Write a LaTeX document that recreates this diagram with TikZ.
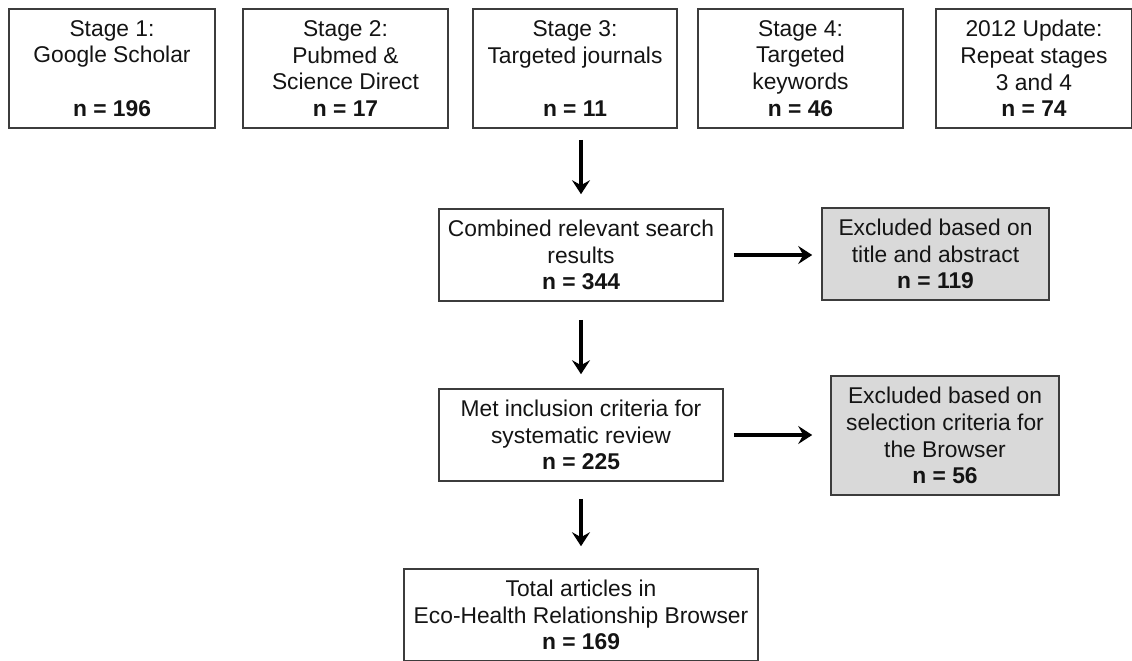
\documentclass[tikz,border=0pt]{standalone}
\usepackage{fontspec}
\setmainfont{Liberation Sans}
\usetikzlibrary{arrows.meta}

\definecolor{boxline}{RGB}{60,60,60}
\definecolor{exclgrey}{RGB}{217,217,217}

\tikzset{
  stagebox/.style={draw=boxline,line width=1.6pt,fill=white,text=black!92,align=center,inner sep=0pt,
    font=\fontsize{22.8}{26.7}\selectfont},
  exclbox/.style={stagebox,fill=exclgrey},
  flow/.style={-{Stealth[length=14pt,width=18pt,inset=5pt]},line width=3.4pt,draw=black}
}

\begin{document}
\begin{tikzpicture}[x=1pt,y=-1pt]
        \useasboundingbox (0,0) rectangle (1132,661);

        \node[stagebox,minimum width=206pt,minimum height=119pt] (Scholar) at (112,68.5) {Stage 1:\\Google Scholar\\[26.7pt]\textbf{n = 196}};
        \node[stagebox,minimum width=205pt,minimum height=119pt] (Pubmed) at (345.5,68.5) {Stage 2:\\Pubmed \&\\Science Direct\\\textbf{n = 17}};
        \node[stagebox,minimum width=204pt,minimum height=119pt] (Journals) at (575,68.5) {Stage 3:\\Targeted journals\\[26.7pt]\textbf{n = 11}};
        \node[stagebox,minimum width=205pt,minimum height=119pt] (Keywords) at (800.5,68.5) {Stage 4:\\Targeted\\keywords\\\textbf{n = 46}};
        \node[stagebox,minimum width=196pt,minimum height=119pt] (Update) at (1034,68.5) {2012 Update:\\Repeat stages\\3 and 4\\\textbf{n = 74}};

        \node[stagebox,minimum width=284pt,minimum height=92pt] (Combined) at (581,255) {Combined relevant search\\results\\\textbf{n = 344}};
        \node[exclbox,minimum width=227pt,minimum height=92pt] (ExclTitle) at (935.5,254) {Excluded based on\\title and abstract\\\textbf{n = 119}};

        \node[stagebox,minimum width=284pt,minimum height=92pt] (Met) at (581,435) {Met inclusion criteria for\\systematic review\\\textbf{n = 225}};
        \node[exclbox,minimum width=228pt,minimum height=119pt] (ExclSel) at (945,435.5) {Excluded based on\\selection criteria for\\the Browser\\\textbf{n = 56}};

        \node[stagebox,minimum width=354pt,minimum height=92pt] (Total) at (581,615) {Total articles in\\Eco-Health Relationship Browser\\\textbf{n = 169}};

        \draw[flow,shorten <=11pt,shorten >=14pt] (Journals.south -| Combined.north) to (Combined.north);
        \draw[flow,shorten <=18pt,shorten >=14pt] (Combined) to (Met);
        \draw[flow,shorten <=17pt,shorten >=22pt] (Met) to (Total);

        \draw[flow,shorten <=10pt,shorten >=9pt] (Combined.east) to (Combined.east -| ExclTitle.west);
        \draw[flow,shorten <=10pt,shorten >=18pt] (Met.east) to (Met.east -| ExclSel.west);
\end{tikzpicture}
\end{document}
